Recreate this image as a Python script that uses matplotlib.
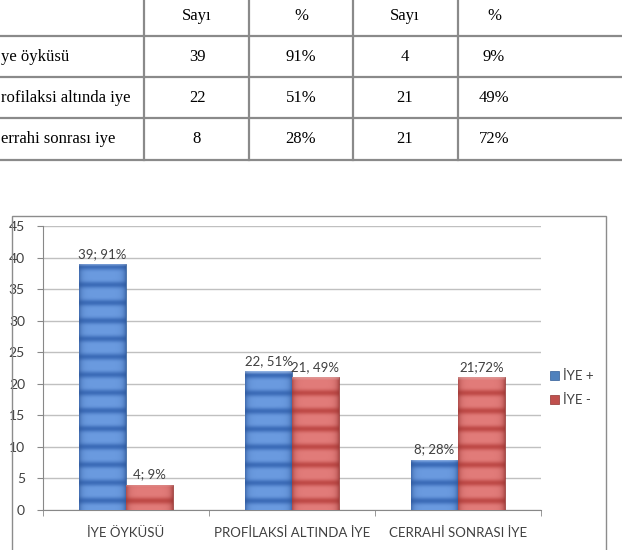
import numpy as np
import matplotlib
matplotlib.use('Agg')
import matplotlib.pyplot as plt
from matplotlib.patches import Rectangle
from matplotlib.lines import Line2D
from matplotlib.colors import to_rgb

plt.rcParams['font.family'] = ['Lato', 'DejaVu Sans']

# chart data
categories = ['İYE ÖYKÜSÜ', 'PROFİLAKSİ ALTINDA İYE', 'CERRAHİ SONRASI İYE']
iye_pos = [39, 22, 8]
iye_neg = [4, 21, 21]
labels_pos = ['39; 91%', '22, 51%', '8; 28%']
labels_neg = ['4; 9%', '21, 49%', '21;72%']
series_names = ['İYE +', 'İYE -']

# table above the chart (left column is cut off in the source)
table_header = ['Sayı', '%', 'Sayı', '%']
table_rows = ['ye öyküsü', 'rofilaksi altında iye', 'errahi sonrası iye']
table_cells = [['39', '91%', '4', '9%'],
               ['22', '51%', '21', '49%'],
               ['8', '28%', '21', '72%']]

W, H = 622, 550
fig = plt.figure(figsize=(W / 100, H / 100), dpi=100)


def fx(x):
    return x / W


def fy(y):
    return 1 - y / H


# ---- table ----
line_col = '#8a8a8a'
for y in [36, 77, 118, 160]:
    fig.add_artist(Line2D([0, 1], [fy(y), fy(y)], transform=fig.transFigure,
                          color=line_col, lw=1.6))
for x in [144, 249, 353, 458]:
    fig.add_artist(Line2D([fx(x), fx(x)], [fy(0), fy(160)], transform=fig.transFigure,
                          color=line_col, lw=1.6))

col_x = [197, 301, 405, 494]
row_y = [57, 98, 139]
tfont = dict(family=['Liberation Serif', 'DejaVu Serif'], size=12, color='black')
for cx, txt in zip(col_x, table_header):
    fig.text(fx(cx), fy(16), txt, ha='center', va='center', **tfont)
for ry, name, cells in zip(row_y, table_rows, table_cells):
    fig.text(fx(1), fy(ry), name, ha='left', va='center', **tfont)
    for cx, txt in zip(col_x, cells):
        fig.text(fx(cx), fy(ry), txt, ha='center', va='center', **tfont)

# ---- chart frame ----
fig.add_artist(Rectangle((fx(12), -0.02), fx(606) - fx(12), fy(216) + 0.02,
                         transform=fig.transFigure, fill=False,
                         edgecolor='#8c8c8c', lw=1))

ax = fig.add_axes([fx(43), fy(510), fx(541) - fx(43), fy(226) - fy(510)])

x = np.arange(len(categories))
w = 0.283
blue = '#4f81bd'
red = '#c0504d'
b1 = ax.bar(x - w / 2, iye_pos, w, color=blue, edgecolor='#2f5b96', lw=0.5,
            zorder=3, label=series_names[0])
b2 = ax.bar(x + w / 2, iye_neg, w, color=red, edgecolor='#8f3330', lw=0.5,
            zorder=3, label=series_names[1])


def stripe_fill(patch, light, dark, edge, period=2.85):
    # banded texture + side bevel, clipped to the bar
    x0, y0 = patch.get_x(), patch.get_y()
    pw, ph = patch.get_width(), patch.get_height()
    ny, nx = 300, 40
    yy = np.linspace(y0, y0 + ph, ny)[:, None]
    xx = np.linspace(0, 1, nx)[None, :]
    band = (0.5 + 0.5 * np.cos(2 * np.pi * (yy - y0 - period / 2) / period)) ** 3
    light, dark, edge = [np.array(to_rgb(c)) for c in (light, dark, edge)]
    img = light[None, None, :] * (1 - band[..., None]) + dark[None, None, :] * band[..., None]
    img = np.broadcast_to(img, (ny, nx, 3)).copy()
    side = np.clip(np.exp(-xx / 0.06) + np.exp(-(1 - xx) / 0.06), 0, 1)
    img = img * (1 - side[..., None] * 0.6) + edge[None, None, :] * side[..., None] * 0.6
    # light cap at the top of the bar
    top = np.clip(1 - (y0 + ph - yy) / 0.5, 0, 1)
    img = img * (1 - top[..., None] * 0.35) + np.ones(3) * top[..., None] * 0.35
    im = ax.imshow(img, origin='lower', extent=[x0, x0 + pw, y0, y0 + ph],
                   aspect='auto', interpolation='bilinear', zorder=3.5)
    im.set_clip_path(patch)


for p in b1:
    stripe_fill(p, '#6b9be0', '#3c6cb8', '#2d5596')
for p in b2:
    stripe_fill(p, '#e27c7a', '#bf4a47', '#953533')

lab_font = dict(size=9.5, color='#404040')
for rects, labs in [(b1, labels_pos), (b2, labels_neg)]:
    for r, lab in zip(rects, labs):
        ax.annotate(lab, (r.get_x() + r.get_width() / 2, r.get_height()),
                    xytext=(0, 3), textcoords='offset points',
                    ha='center', va='bottom', zorder=5, **lab_font)

ax.set_xlim(-0.5, len(categories) - 0.5)
ax.set_ylim(0, 45)
ax.set_yticks(range(0, 46, 5))
ax.set_xticks(x)
ax.set_xticklabels(categories)
ax.set_xticks(np.arange(-0.5, len(categories), 1), minor=True)
ax.tick_params(axis='x', which='major', length=0, pad=12, labelsize=9.5,
               labelcolor='#404040')
ax.tick_params(axis='x', which='minor', length=4, color='#888888')
ax.tick_params(axis='y', length=4, color='#888888', pad=9, labelsize=10,
               labelcolor='#404040')
ax.yaxis.grid(True, color='#c0c0c0', lw=1)
ax.set_axisbelow(True)
for s in ['top', 'right']:
    ax.spines[s].set_visible(False)
for s in ['left', 'bottom']:
    ax.spines[s].set_color('#888888')

ax.legend(handles=[b1, b2], labels=series_names, loc='upper left',
          bbox_to_anchor=(fx(538), fy(358)), bbox_transform=fig.transFigure,
          frameon=False, handlelength=0.7, handleheight=0.7, handletextpad=0.3,
          labelspacing=0.9, fontsize=9.5, labelcolor='#404040')

fig.savefig('out.png', dpi=100)
